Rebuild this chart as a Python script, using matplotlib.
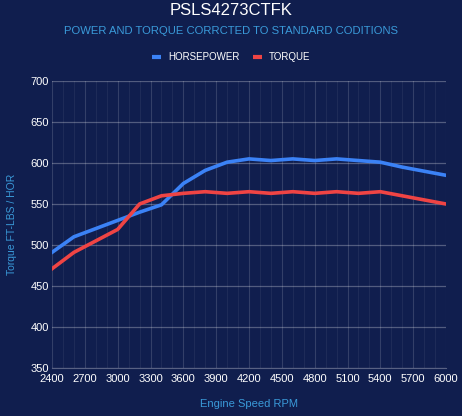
import matplotlib
matplotlib.use("Agg")
import matplotlib.pyplot as plt
from matplotlib.lines import Line2D

# data (every 200 rpm)
rpm = [2400, 2600, 2800, 3000, 3200, 3400, 3600, 3800, 4000, 4200,
       4400, 4600, 4800, 5000, 5200, 5400, 5600, 5800, 6000]
horsepower = [491, 510, 520, 530, 540, 549, 575, 591, 601, 605,
              603, 605, 603, 605, 603, 601, 595, 590, 585]
torque = [471, 491, 505, 519, 550, 560, 563, 565, 563, 565,
          563, 565, 563, 565, 563, 565, 560, 555, 550]
x_ticks = list(range(2400, 6001, 300))
y_ticks = list(range(350, 701, 50))

bg = "#101e4e"
blue = "#3b82f6"
red = "#ef4444"
label_blue = "#3a9ad9"

plt.rcParams['font.family'] = ['Liberation Sans', 'DejaVu Sans']

fig = plt.figure(figsize=(4.62, 4.16), dpi=100, facecolor=bg)
ax = fig.add_axes([52 / 462, 1 - 368 / 416, 394 / 462, 287 / 416])
ax.set_facecolor(bg)

ax.plot(rpm, horsepower, color=blue, lw=2.6, solid_joinstyle='round', zorder=3)
ax.plot(rpm, torque, color=red, lw=2.6, solid_joinstyle='round', zorder=3)

ax.set_xlim(2400, 6000)
ax.set_ylim(350, 700)
ax.set_xticks(x_ticks)
ax.set_xticks(range(2400, 6001, 100), minor=True)
ax.set_yticks(y_ticks)

ax.grid(axis='y', which='major', color='#ffffff', alpha=0.28, lw=0.9)
ax.grid(axis='x', which='major', color='#ffffff', alpha=0.15, lw=0.8)
ax.grid(axis='x', which='minor', color='#ffffff', alpha=0.07, lw=0.6)

for s in ['top', 'right', 'left']:
    ax.spines[s].set_visible(False)
ax.spines['bottom'].set_color('#ffffff')
ax.spines['bottom'].set_alpha(0.3)

ax.tick_params(axis='both', which='both', length=0, colors='white', labelsize=8)
ax.tick_params(axis='x', pad=4)
ax.tick_params(axis='y', pad=2)

ax.set_xlabel('Engine Speed RPM', color=label_blue, fontsize=8, labelpad=11)
ax.set_ylabel('Torque FT-LBS / HOR', color=label_blue, fontsize=7.5, labelpad=10)

fig.text(0.5, 1 - 10.5 / 416, 'PSLS4273CTFK', color='white', fontsize=12,
         ha='center', va='center')
fig.text(0.5, 1 - 30.5 / 416, 'POWER AND TORQUE CORRCTED TO STANDARD CODITIONS',
         color=label_blue, fontsize=8.1, ha='center', va='center')

handles = [Line2D([], [], color=blue, lw=3, solid_capstyle='butt'),
           Line2D([], [], color=red, lw=3, solid_capstyle='butt')]
leg = fig.legend(handles, ['HORSEPOWER', 'TORQUE'], loc='center',
                 bbox_to_anchor=(0.5, 1 - 57 / 416), ncol=2, frameon=False,
                 fontsize=7, handlelength=0.95, handletextpad=0.7,
                 columnspacing=1.35, labelcolor='white')

fig.savefig('out.png', dpi=100, facecolor=bg)
